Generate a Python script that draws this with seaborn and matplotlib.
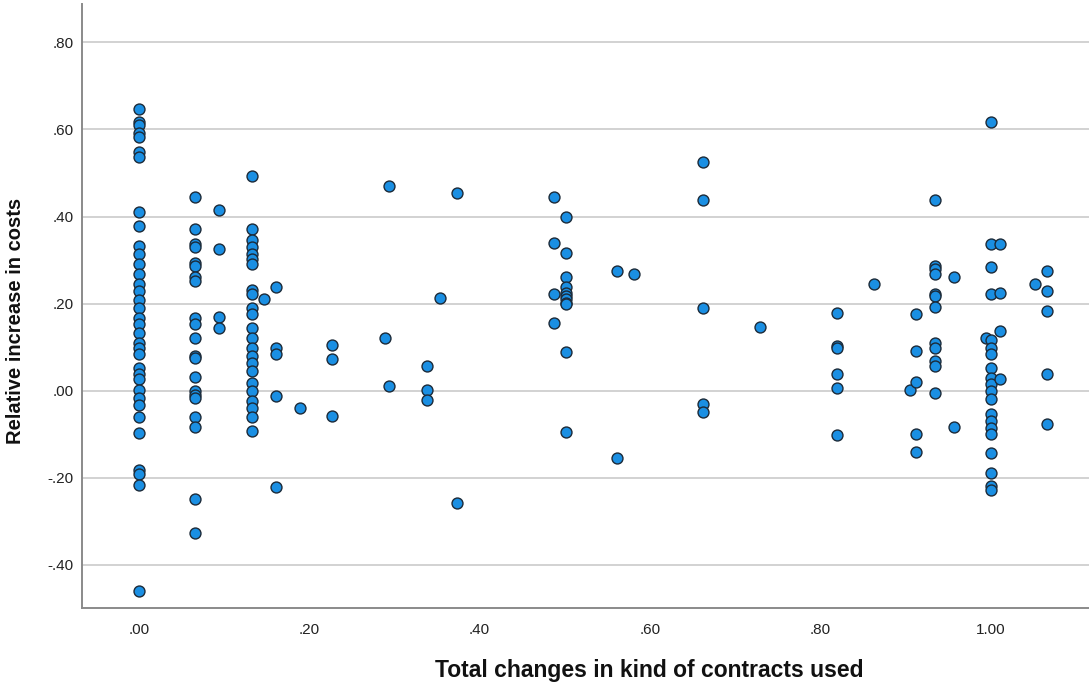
import matplotlib
matplotlib.use("Agg")
import matplotlib.pyplot as plt
import seaborn as sns
import pandas as pd
from matplotlib.ticker import FuncFormatter, FixedLocator

# Data (x = total changes, y = relative cost increase)
col_x = [0.0, 0.066, 0.094, 0.133, 0.147, 0.161, 0.189, 0.227, 0.289, 0.294,
         0.338, 0.353, 0.374, 0.488, 0.502, 0.562, 0.582, 0.663, 0.729, 0.820,
         0.863, 0.906, 0.913, 0.935, 0.957, 0.995, 1.001, 1.011, 1.052, 1.067]
col_y = [
    [.646, .616, .611, .591, .582, .547, .536, .411, .379, .333, .313, .290, .267,
     .246, .228, .209, .191, .168, .154, .133, .110, .099, .085, .053, .039, .028,
     .002, -.016, -.032, -.060, -.097, -.182, -.191, -.216, -.460],
    [.444, .372, .338, .329, .294, .287, .260, .253, .168, .154, .122, .080, .074,
     .032, .000, -.011, -.016, -.060, -.083, -.248, -.326],
    [.416, .326, .170, .143],
    [.494, .372, .347, .329, .315, .303, .292, .232, .221, .189, .177, .143, .120,
     .099, .080, .064, .046, .018, .000, -.023, -.039, -.060, -.092],
    [.211],
    [.239, .099, .085, -.013, -.221],
    [-.039],
    [.106, .073, -.057],
    [.122],
    [.469, .011],
    [.057, .002, -.021],
    [.214],
    [.455, -.257],
    [.444, .340, .223, .156],
    [.398, .317, .262, .237, .225, .218, .211, .202, .198, .090, -.094],
    [.276, -.154],
    [.267],
    [.526, .439, .191, -.030, -.048],
    [.147],
    [.179, .103, .099, .039, .007, -.101],
    [.244],
    [.002],
    [.175, .092, .021, -.099, -.140],
    [.439, .287, .280, .269, .223, .218, .193, .110, .099, .069, .057, -.005],
    [.260, -.083],
    [.122],
    [.616, .338, .285, .223, .117, .099, .085, .051, .030, .016, .000, -.018,
     -.053, -.069, -.085, -.099, -.143, -.189, -.218, -.228],
    [.338, .225, .136, .028],
    [.246],
    [.276, .228, .182, .039, -.076],
]
x_ticks = [0.0, 0.2, 0.4, 0.6, 0.8, 1.0]
y_ticks = [-0.4, -0.2, 0.0, 0.2, 0.4, 0.6, 0.8]

x_vals = [x for x, ys in zip(col_x, col_y) for _ in ys]
y_vals = [y for ys in col_y for y in ys]
df = pd.DataFrame({"x": x_vals, "y": y_vals})

sns.set_style("white")
plt.rcParams["font.family"] = ["Liberation Sans", "DejaVu Sans"]

fig = plt.figure(figsize=(10.89, 6.87), dpi=100)
ax = fig.add_axes([82 / 1089, 79 / 687, 1 - 82 / 1089, (608 - 4) / 687])

sns.scatterplot(data=df, x="x", y="y", ax=ax, s=62, color="#1a8fe3",
                edgecolor="#1c2a38", linewidth=1.0, zorder=3)

ax.set_xlim(-0.067, 1.116)
ax.set_ylim(-0.499, 0.888)
ax.xaxis.set_major_locator(FixedLocator(x_ticks))
ax.yaxis.set_major_locator(FixedLocator(y_ticks))

def fmt(v, pos):
    s = f"{v:.2f}"
    if s.startswith("0."):
        s = s[1:]
    elif s.startswith("-0."):
        s = "-" + s[2:]
    if s == "-.00":
        s = ".00"
    return s

ax.xaxis.set_major_formatter(FuncFormatter(fmt))
ax.yaxis.set_major_formatter(FuncFormatter(fmt))

ax.grid(axis="y", color="#d2d2d2", linewidth=1.4, zorder=0)
ax.grid(axis="x", visible=False)
ax.set_axisbelow(True)
for side in ("top", "right"):
    ax.spines[side].set_visible(False)
for side in ("left", "bottom"):
    ax.spines[side].set_color("#8a8a8a")
    ax.spines[side].set_linewidth(1.4)

ax.tick_params(axis="both", length=0, labelsize=11, colors="#222222")
ax.tick_params(axis="x", pad=11)
ax.tick_params(axis="y", pad=6)

ax.set_xlabel("Total changes in kind of contracts used", fontsize=16.5,
              fontweight="bold", color="#111111")
ax.set_ylabel("Relative increase in costs", fontsize=14.5, fontweight="bold",
              color="#111111")
ax.xaxis.label.set_va("center")
ax.yaxis.label.set_va("center")
ax.xaxis.set_label_coords(0.563, (608 - 671) / 604)
ax.yaxis.set_label_coords((15 - 82) / 1007, (608 - 321) / 604)

fig.savefig("out.png", dpi=100)
